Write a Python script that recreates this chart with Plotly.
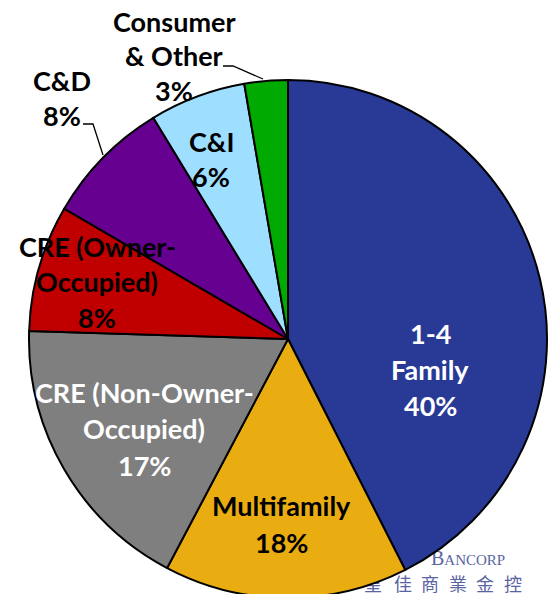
import plotly.graph_objects as go

# ---- data ----
categories = ["1-4 Family", "Multifamily", "CRE (Non-Owner-Occupied)",
              "CRE (Owner-Occupied)", "C&D", "C&I", "Consumer & Other"]
share_measured = [42.5, 15.2, 17.75, 7.9, 7.9, 6.0, 2.7]
# percentages as printed on the chart
pct_labels = ["40%", "18%", "17%", "8%", "8%", "6%", "3%"]
label_lines = [["1-4", "Family"], ["Multifamily"], ["CRE (Non-Owner-", "Occupied)"],
               ["CRE (Owner-", "Occupied)"], ["C&D"], ["C&I"], ["Consumer", "& Other"]]

# ---- style ----
W, H = 553, 600          # figure slightly taller than the window: pie bottom is cut off
slice_colors = ["#283A96", "#E9AD12", "#7F7F7F", "#C00000", "#660090", "#9EDEFF", "#00AA00"]
text_colors = ["white", "black", "white", "black", "black", "black", "black"]
label_x = [430, 281, 144, 97, 62, 211, 174]
label_y0 = [333, 505, 392, 246, 80, 141, 21]
line_gap = [36, 37, 36.5, 35.5, 35, 35, 34.5]
FONT = "Lato"
FS = 27
CX, CY, R = 288, 339, 259

fig = go.Figure()

# watermark (cartesian layer, below the pie)
fig.add_trace(go.Scatter(
    x=[431], y=[560], mode="text",
    text=["B<span style='font-size:15px'>ANCORP</span>"],
    textposition="middle right",
    textfont=dict(family="Liberation Serif", size=20, color="#5A64A2"),
    hoverinfo="skip", showlegend=False))
wm_chars = list("皇佳商業金控")
wm_x = [373, 403, 430, 458, 485, 513]
fig.add_trace(go.Scatter(
    x=wm_x, y=[586] * len(wm_chars), mode="text", text=wm_chars,
    textposition="middle center",
    textfont=dict(family="Noto Sans CJK TC", size=18, color="#5A64A2"),
    hoverinfo="skip", showlegend=False))

fig.add_trace(go.Pie(
    labels=categories, values=share_measured, sort=False, direction="clockwise",
    rotation=0, textinfo="none", hoverinfo="label+percent",
    marker=dict(colors=slice_colors, line=dict(color="black", width=2)),
    domain=dict(x=[(CX - R) / W, (CX + R) / W],
                y=[(H - CY - R) / H, (H - CY + R) / H]),
    showlegend=False))

annotations = []
for i, lines in enumerate(label_lines):
    all_lines = lines + [pct_labels[i]]
    for j, t in enumerate(all_lines):
        annotations.append(dict(
            x=label_x[i], y=label_y0[i] + j * line_gap[i], xref="x", yref="y",
            text=t, showarrow=False, xanchor="center", yanchor="middle",
            font=dict(family=FONT, size=FS, color=text_colors[i], weight="bold")))

shapes = [
    dict(type="path", path="M 223 66 L 233 66 L 263 79", xref="x", yref="y",
         line=dict(color="black", width=1.3)),
    dict(type="path", path="M 83 124 L 93 124 L 103 155", xref="x", yref="y",
         line=dict(color="black", width=1.3)),
]

fig.update_layout(
    width=W, height=H, margin=dict(l=0, r=0, t=0, b=0),
    paper_bgcolor="white", plot_bgcolor="rgba(0,0,0,0)",
    xaxis=dict(range=[0, W], visible=False, fixedrange=True),
    yaxis=dict(range=[H, 0], visible=False, fixedrange=True),
    annotations=annotations, shapes=shapes, showlegend=False)

fig.write_html(
    "out.html",
    config={"displayModeBar": False},
    post_script="document.body.style.margin='0';document.body.style.overflow='hidden';"
                "document.documentElement.style.overflow='hidden';")
